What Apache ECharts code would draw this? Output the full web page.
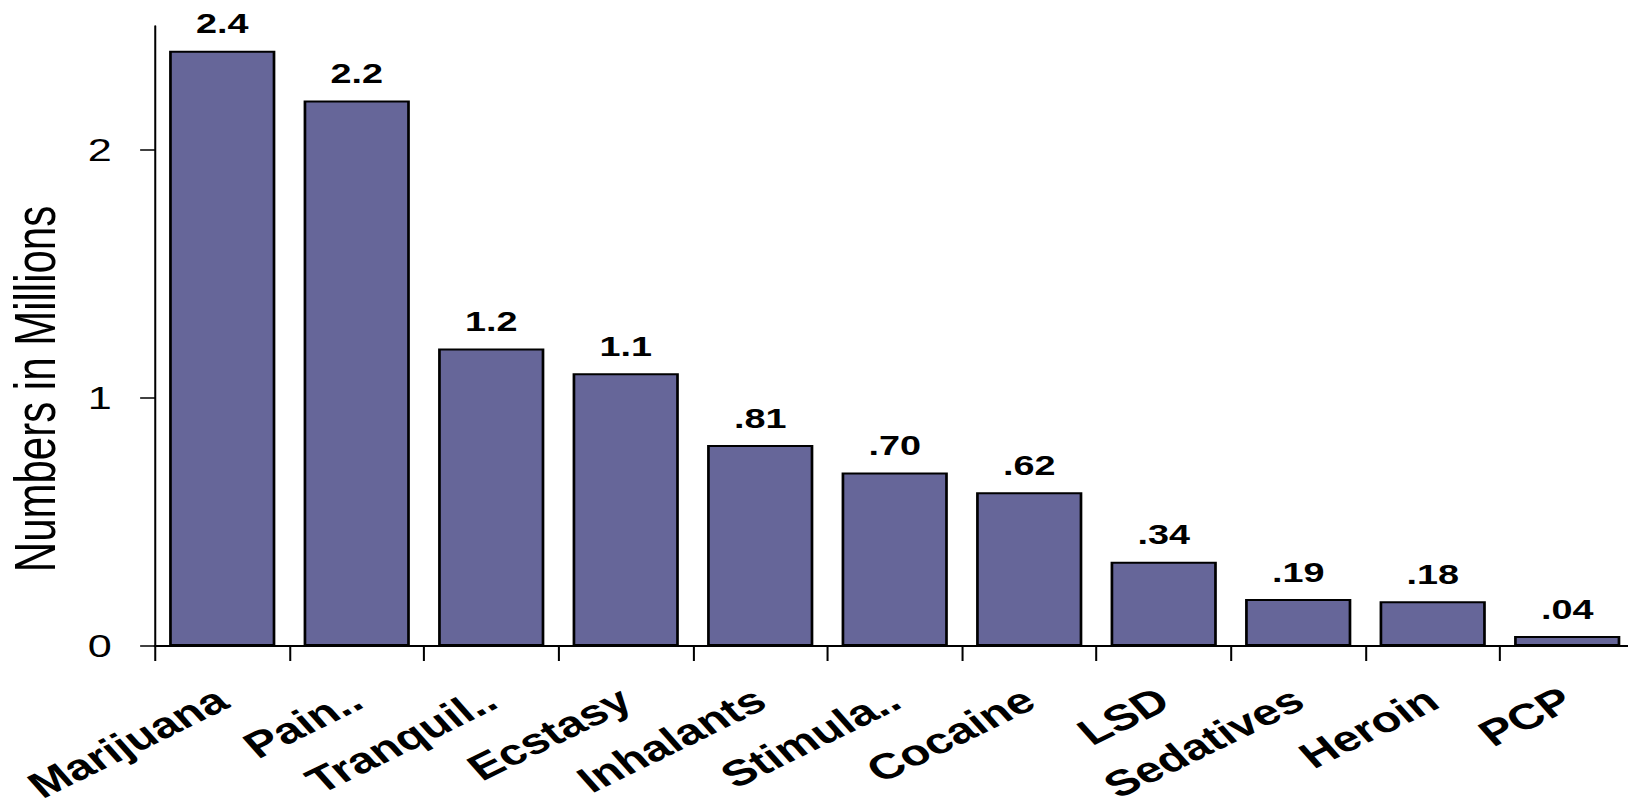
<!DOCTYPE html>
<html>
<head>
<meta charset="utf-8">
<script src="https://cdn.jsdelivr.net/npm/echarts@6/dist/echarts.min.js"></script>
<style>
  html, body { margin: 0; padding: 0; background: #ffffff; overflow: hidden; }
  /* the chart is laid out narrow and widened horizontally */
  #chart { width: 1206px; height: 811px; transform: scaleX(1.35); transform-origin: 0 0; }
</style>
</head>
<body>
<div id="chart"></div>
<script>
// Past-year users of each drug, in millions
const drugs = ['Marijuana', 'Pain..', 'Tranquil..', 'Ecstasy', 'Inhalants', 'Stimula..', 'Cocaine', 'LSD', 'Sedatives', 'Heroin', 'PCP'];
const usersMillions = [2.4, 2.2, 1.2, 1.1, 0.81, 0.70, 0.62, 0.34, 0.19, 0.18, 0.04];
const yTicks = [0, 1, 2];
const yTitle = 'Numbers in Millions';

const FONT = '"Liberation Sans", Arial, Helvetica, sans-serif';

// value text as printed over each bar: "2.4", ".81", ".04"
function valueText(v) {
  if (v >= 1) return v.toFixed(1);
  return v.toFixed(2).replace(/^0/, '');
}

const chart = echarts.init(document.getElementById('chart'), null, { renderer: 'svg' });

chart.setOption({
  backgroundColor: '#ffffff',
  animation: false,
  grid: {
    left: 114.8,
    top: 26,
    width: 1095.9,
    height: 620,
    containLabel: false,
    outerBoundsMode: 'none'
  },
  xAxis: {
    type: 'category',
    data: drugs,
    boundaryGap: true,
    axisLine: { show: true, lineStyle: { color: '#000000', width: 2 } },
    axisTick: { show: true, alignWithLabel: false, length: 15, inside: false,
                lineStyle: { color: '#000000', width: 1.5 } },
    axisLabel: {
      interval: 0,
      rotate: 33.5,
      margin: 50,
      color: '#000000',
      fontFamily: FONT,
      fontWeight: 'bold',
      fontSize: 36,
      lineHeight: 36
    },
    splitLine: { show: false }
  },
  yAxis: {
    type: 'value',
    min: 0,
    max: 2.5,
    interval: 1,
    axisLine: { show: true, lineStyle: { color: '#000000', width: 1.5 } },
    axisTick: { show: true, length: 11, inside: false, customValues: yTicks,
                lineStyle: { color: '#000000', width: 1.5 } },
    axisLabel: {
      customValues: yTicks,
      margin: 32,
      color: '#000000',
      fontFamily: FONT,
      fontSize: 32,
      formatter: function (v) { return String(v); }
    },
    splitLine: { show: false }
  },
  graphic: [{
    type: 'text',
    x: 26.7,
    y: 389,
    rotation: Math.PI / 2,
    style: {
      text: yTitle,
      fill: '#000000',
      font: '42px ' + FONT,
      align: 'center',
      verticalAlign: 'middle'
    }
  }],
  series: [{
    type: 'bar',
    data: usersMillions,
    barCategoryGap: '21%',
    itemStyle: { color: '#666699', borderColor: '#000000', borderWidth: 2 },
    label: {
      show: true,
      position: 'top',
      distance: 13,
      color: '#000000',
      fontFamily: FONT,
      fontWeight: 'bold',
      fontSize: 28,
      formatter: function (p) { return valueText(p.value); }
    }
  }]
});
</script>
</body>
</html>
